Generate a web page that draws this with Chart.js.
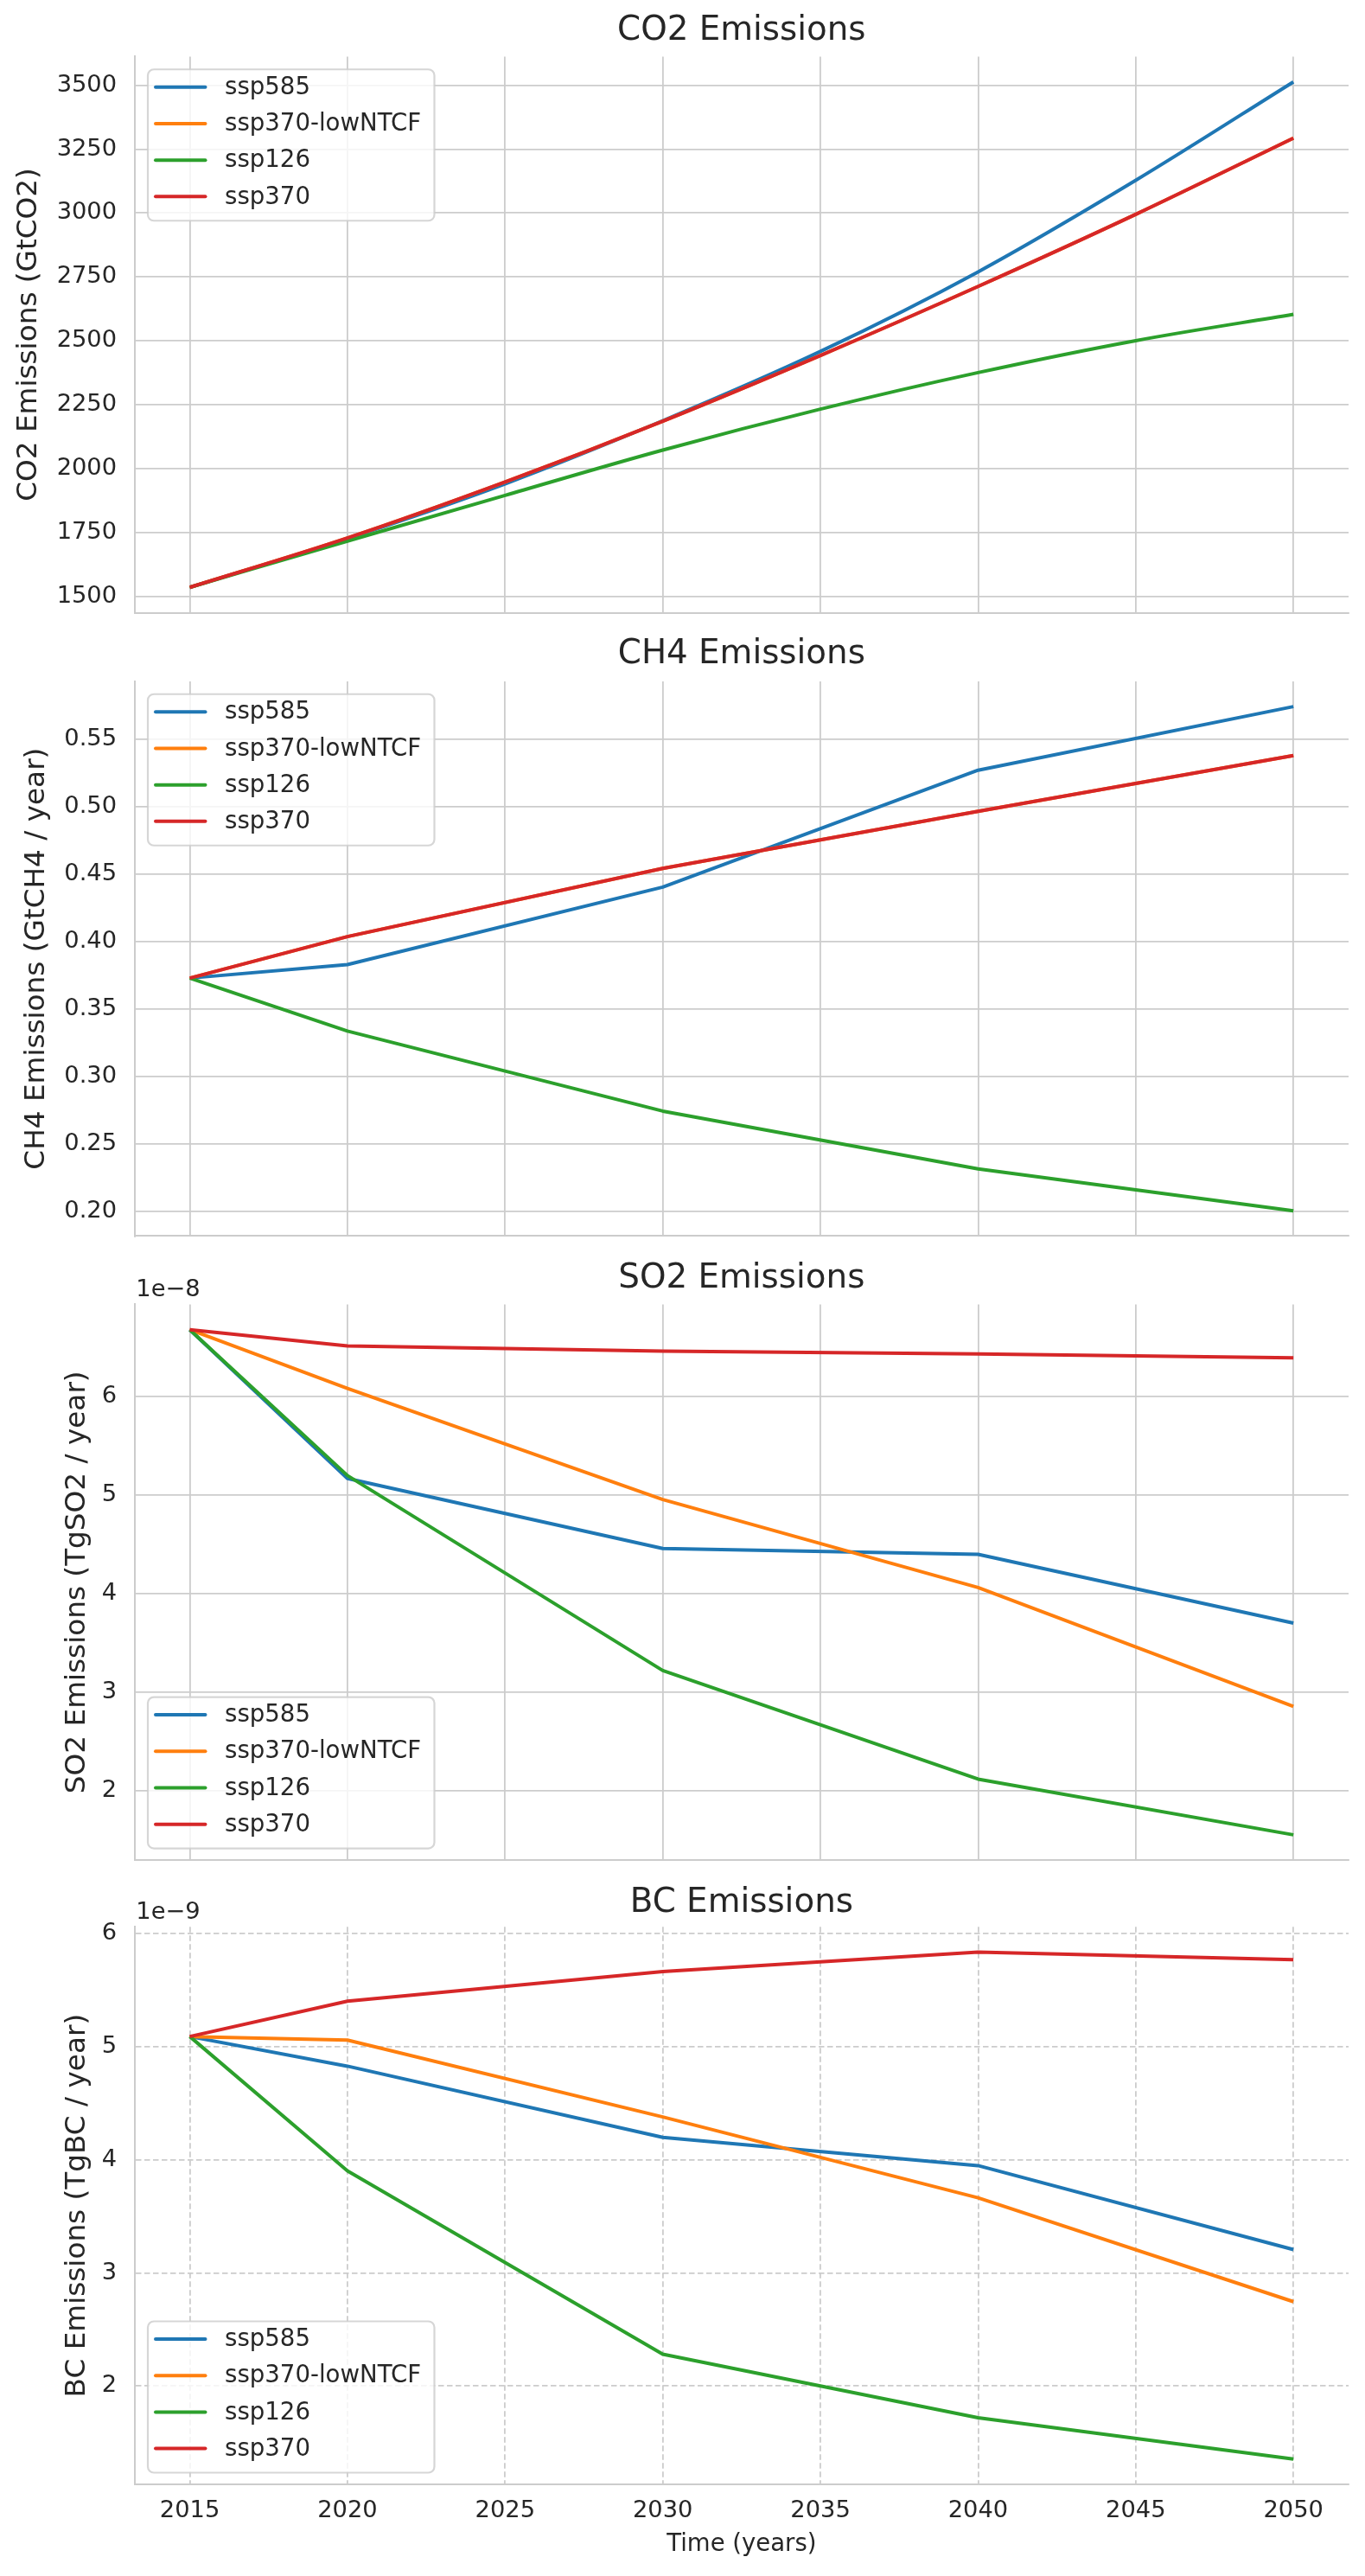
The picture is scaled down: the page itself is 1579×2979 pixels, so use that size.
<!DOCTYPE html>
<html>
<head>
<meta charset="utf-8">
<title>Emissions</title>
<script src="https://cdn.jsdelivr.net/npm/chart.js@4.4.1/dist/chart.umd.min.js"></script>
<style>
  html, body { margin: 0; padding: 0; background: #fff; }
  body { width: 1579px; height: 2979px; position: relative; overflow: hidden; }
  .panel { position: absolute; left: 0; width: 1579px; }
  canvas { display: block; }
</style>
</head>
<body>
<div class="panel" style="top:0px"><canvas id="chart-co2" width="1579" height="725"></canvas></div>
<div class="panel" style="top:715px"><canvas id="chart-ch4" width="1579" height="725"></canvas></div>
<div class="panel" style="top:1435px"><canvas id="chart-so2" width="1579" height="730"></canvas></div>
<div class="panel" style="top:2160px"><canvas id="chart-bc" width="1579" height="819"></canvas></div>
<script>
const FONT = '"DejaVu Sans", "Liberation Sans", sans-serif';
const TEXT = '#262626';
const GRID = '#cccccc';

const scenarios = ['ssp585', 'ssp370-lowNTCF', 'ssp126', 'ssp370'];
const colors = ['#1f77b4', '#ff7f0e', '#2ca02c', '#d62728'];

const xTicks = [2015, 2020, 2025, 2030, 2035, 2040, 2045, 2050];

// CO2 (GtCO2), read every 5 years
const co2Years = [2015, 2020, 2025, 2030, 2035, 2040, 2045, 2050];
const co2Ssp585 = [1536, 1727, 1941, 2188, 2459, 2770, 3128, 3513];
const co2LowNtcf = [1536, 1729, 1948, 2186, 2443, 2713, 2995, 3293];
const co2Ssp126 = [1536, 1717, 1896, 2073, 2233, 2376, 2501, 2604];
const co2Ssp370 = [1536, 1729, 1948, 2186, 2443, 2713, 2995, 3293];
const co2Ticks = [1500, 1750, 2000, 2250, 2500, 2750, 3000, 3250, 3500];

// other gases only have values at these years
const gasYears = [2015, 2020, 2030, 2040, 2050];

const ch4Ssp585 = [0.373, 0.383, 0.4405, 0.5273, 0.5745];
const ch4LowNtcf = [0.373, 0.4038, 0.4544, 0.4968, 0.5382];
const ch4Ssp126 = [0.373, 0.3337, 0.2743, 0.2314, 0.2003];
const ch4Ssp370 = [0.373, 0.4038, 0.4544, 0.4968, 0.5382];
const ch4Ticks = [0.20, 0.25, 0.30, 0.35, 0.40, 0.45, 0.50, 0.55];

const so2Ssp585 = [6.681e-8, 5.170e-8, 4.460e-8, 4.400e-8, 3.702e-8];
const so2LowNtcf = [6.681e-8, 6.085e-8, 4.957e-8, 4.064e-8, 2.856e-8];
const so2Ssp126 = [6.681e-8, 5.200e-8, 3.221e-8, 2.119e-8, 1.553e-8];
const so2Ssp370 = [6.681e-8, 6.515e-8, 6.464e-8, 6.434e-8, 6.396e-8];
const so2Ticks = [2e-8, 3e-8, 4e-8, 5e-8, 6e-8];

const bcSsp585 = [5.090e-9, 4.828e-9, 4.199e-9, 3.949e-9, 3.207e-9];
const bcLowNtcf = [5.090e-9, 5.059e-9, 4.379e-9, 3.664e-9, 2.746e-9];
const bcSsp126 = [5.090e-9, 3.903e-9, 2.281e-9, 1.719e-9, 1.355e-9];
const bcSsp370 = [5.090e-9, 5.403e-9, 5.665e-9, 5.836e-9, 5.770e-9];
const bcTicks = [2e-9, 3e-9, 4e-9, 5e-9, 6e-9];

// legend box drawn inside the axes, like matplotlib's
const boxLegend = {
  id: 'boxLegend',
  afterDatasetsDraw(chart, args, opts) {
    const { ctx, chartArea: a } = chart;
    const w = 331.5, h = 175;
    const left = a.left + 15.3;
    const top = opts.corner === 'lower' ? a.bottom - 13.5 - h : a.top + 14.8;
    ctx.save();
    ctx.beginPath();
    ctx.roundRect(left, top, w, h, 7);
    ctx.fillStyle = 'rgba(255,255,255,0.8)';
    ctx.fill();
    ctx.lineWidth = 2.2;
    ctx.strokeStyle = 'rgba(204,204,204,0.8)';
    ctx.stroke();
    ctx.font = '27.6px ' + FONT;
    ctx.textBaseline = 'middle';
    scenarios.forEach((name, i) => {
      const y = top + 20.5 + i * 42.2;
      ctx.beginPath();
      ctx.moveTo(left + 9, y);
      ctx.lineTo(left + 66.5, y);
      ctx.strokeStyle = colors[i];
      ctx.lineWidth = 4;
      ctx.lineCap = 'round';
      ctx.stroke();
      ctx.fillStyle = TEXT;
      ctx.fillText(name, left + 89, y + 1);
    });
    ctx.restore();
  }
};

// the "1e-8" style multiplier above the y axis
const offsetText = {
  id: 'offsetText',
  afterDraw(chart, args, opts) {
    if (!opts.text) return;
    const { ctx, chartArea: a } = chart;
    ctx.save();
    ctx.font = '27.3px ' + FONT;
    ctx.fillStyle = TEXT;
    ctx.textBaseline = 'middle';
    ctx.textAlign = 'left';
    ctx.fillText(opts.text, a.left + 1.6, a.top - 16.7);
    ctx.restore();
  }
};

function mkChart(p) {
  const all = p.series.flat();
  const lo = Math.min(...all), hi = Math.max(...all);
  const margin = (hi - lo) * 0.05;
  const order = [4, 3, 2, 1]; // ssp370 on top, as in the original

  const datasets = p.series.map((vals, i) => ({
    label: scenarios[i],
    data: p.years.map((x, k) => ({ x, y: vals[k] })),
    borderColor: colors[i],
    backgroundColor: colors[i],
    borderWidth: 4,
    borderJoinStyle: 'round',
    pointRadius: 0,
    fill: false,
    order: order[i],
    cubicInterpolationMode: p.smooth ? 'monotone' : 'default',
    tension: 0
  }));

  const bottom = !!p.xLabel;

  return new Chart(document.getElementById(p.id), {
    type: 'line',
    data: { datasets },
    plugins: [boxLegend, offsetText],
    options: {
      responsive: false,
      animation: false,
      devicePixelRatio: 1,
      layout: { padding: { left: 0, right: 19, top: 0, bottom: 0 }, autoPadding: false },
      plugins: {
        legend: { display: false },
        tooltip: { enabled: false },
        title: {
          display: true,
          text: p.title,
          fullSize: false,
          color: TEXT,
          font: { family: FONT, size: 38.8, weight: 'normal', lineHeight: 1.2 },
          padding: p.titlePad
        },
        boxLegend: { corner: p.legend },
        offsetText: { text: p.offset || '' }
      },
      scales: {
        x: {
          type: 'linear',
          position: 'bottom',
          min: 2013.25,
          max: 2051.75,
          afterBuildTicks: s => { s.ticks = xTicks.map(v => ({ value: v })); },
          afterFit: s => { s.height = p.xHeight; s.paddingLeft = 0; s.paddingRight = 0; },
          grid: { color: GRID, lineWidth: 1.8, drawTicks: false },
          border: { display: true, color: GRID, width: 2, dash: p.dashed ? [6.5, 3.5] : [] },
          ticks: {
            display: bottom,
            color: TEXT,
            padding: 14.3,
            maxRotation: 0,
            font: { family: FONT, size: 27.3, lineHeight: 1.2 },
            callback: v => String(v)
          },
          title: {
            display: bottom,
            text: p.xLabel || '',
            color: TEXT,
            font: { family: FONT, size: 27.5, lineHeight: 1.2 },
            padding: { top: 0, bottom: 19.5 }
          }
        },
        y: {
          type: 'linear',
          position: 'left',
          min: lo - margin,
          max: hi + margin,
          afterBuildTicks: s => { s.ticks = p.yTicks.map(v => ({ value: v })); },
          afterFit: s => { s.width = 155.7; s.paddingTop = 0; s.paddingBottom = 0; },
          grid: { color: GRID, lineWidth: 1.8, drawTicks: false },
          border: { display: true, color: GRID, width: 2, dash: p.dashed ? [6.5, 3.5] : [] },
          ticks: {
            color: TEXT,
            padding: 20.6,
            font: { family: FONT, size: 27.3, lineHeight: 1.2 },
            callback: p.fmt
          },
          title: {
            display: true,
            text: p.yLabel,
            color: TEXT,
            font: { family: FONT, size: 32.7, lineHeight: 1.2 },
            padding: { top: p.yTitleX - 19.62, bottom: 0 }
          }
        }
      }
    }
  });
}

mkChart({
  id: 'chart-co2', title: 'CO2 Emissions', yLabel: 'CO2 Emissions (GtCO2)',
  years: co2Years, series: [co2Ssp585, co2LowNtcf, co2Ssp126, co2Ssp370],
  yTicks: co2Ticks, fmt: v => String(Math.round(v)),
  titlePad: { top: 13.0, bottom: 5.9 }, yTitleX: 33.7, xHeight: 16.5,
  legend: 'upper', smooth: true
});

mkChart({
  id: 'chart-ch4', title: 'CH4 Emissions', yLabel: 'CH4 Emissions (GtCH4 / year)',
  years: gasYears, series: [ch4Ssp585, ch4LowNtcf, ch4Ssp126, ch4Ssp370],
  yTicks: ch4Ticks, fmt: v => v.toFixed(2),
  titlePad: { top: 18.9, bottom: 7.5 }, yTitleX: 42.6, xHeight: 10.6,
  legend: 'upper'
});

mkChart({
  id: 'chart-so2', title: 'SO2 Emissions', yLabel: 'SO2 Emissions (TgSO2 / year)',
  years: gasYears, series: [so2Ssp585, so2LowNtcf, so2Ssp126, so2Ssp370],
  yTicks: so2Ticks, fmt: v => String(Math.round(v / 1e-8)),
  titlePad: { top: 20.5, bottom: 6.4 }, yTitleX: 89.3, xHeight: 13.9,
  legend: 'lower', offset: '1e\u22128'
});

mkChart({
  id: 'chart-bc', title: 'BC Emissions', yLabel: 'BC Emissions (TgBC / year)',
  years: gasYears, series: [bcSsp585, bcLowNtcf, bcSsp126, bcSsp370],
  yTicks: bcTicks, fmt: v => String(Math.round(v / 1e-9)),
  titlePad: { top: 17.6, bottom: 4.1 }, yTitleX: 89.3, xHeight: 106,
  legend: 'lower', offset: '1e\u22129', dashed: true, xLabel: 'Time (years)'
});
</script>
</body>
</html>
